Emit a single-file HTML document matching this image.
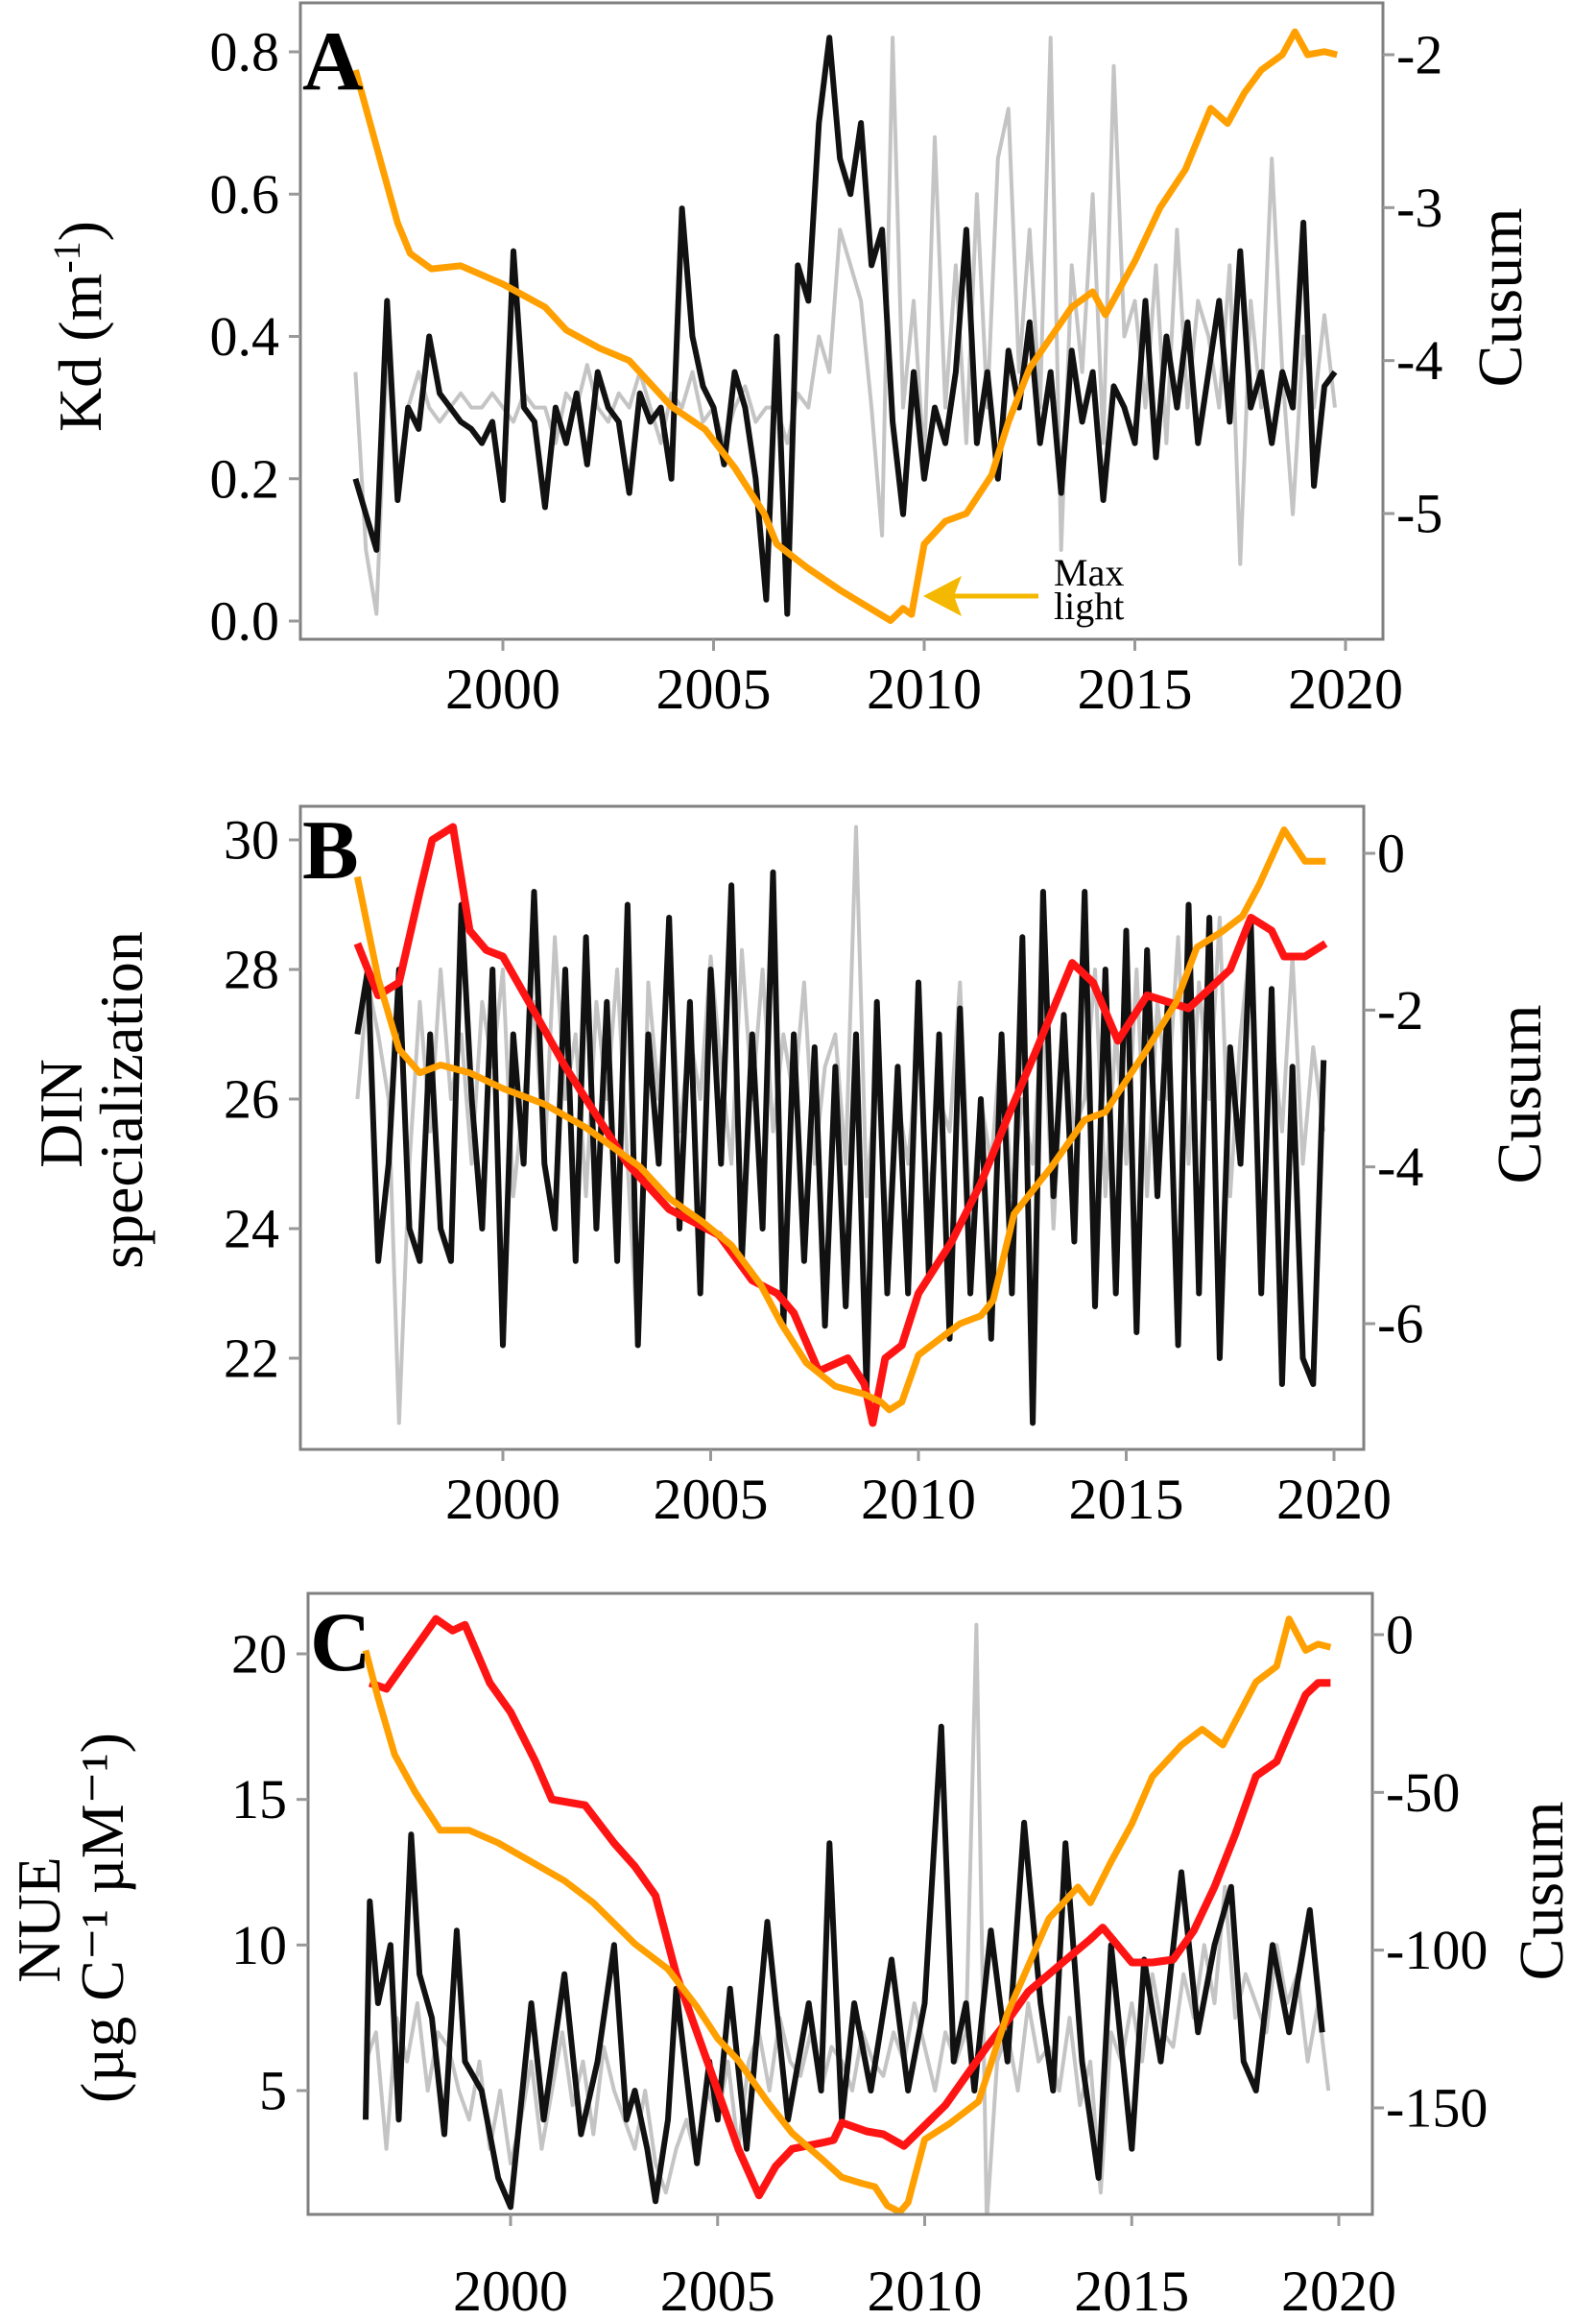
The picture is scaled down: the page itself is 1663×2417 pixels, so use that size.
<!DOCTYPE html>
<html><head><meta charset="utf-8">
<style>
html,body{margin:0;padding:0;background:#fff;}
svg{display:block;font-family:"Liberation Serif",serif;}
</style></head>
<body>
<svg id="fig" width="1663" height="2417" viewBox="0 0 1663 2417" xmlns="http://www.w3.org/2000/svg"></svg>
<script>
// ---------- Panel A data ----------
const aStart = 1996.5, aStep = 0.25;
const aBlack = [0.2,0.15, 0.1,0.45,0.17,0.3, 0.27,0.4,0.32,0.3, 0.28,0.27,0.25,0.28, 0.17,0.52,0.3,0.28, 0.16,0.3,0.25,0.32, 0.22,0.35,0.3,0.28, 0.18,0.32,0.28,0.3, 0.2,0.58,0.4,0.33, 0.3,0.22,0.35,0.3, 0.2,0.03,0.4,0.01, 0.5,0.45,0.7,0.82, 0.65,0.6,0.7,0.5, 0.55,0.28,0.15,0.35, 0.2,0.3,0.25,0.35, 0.55,0.25,0.35,0.2, 0.38,0.3,0.42,0.25, 0.35,0.18,0.38,0.28, 0.35,0.17,0.33,0.3, 0.25,0.45,0.23,0.4, 0.3,0.42,0.25,0.35, 0.45,0.28,0.52,0.3, 0.35,0.25,0.35,0.3, 0.56,0.19,0.33,0.35];
const aGray = [0.35,0.1, 0.01,0.38,0.2,0.3, 0.35,0.3,0.28,0.3, 0.32,0.3,0.3,0.32, 0.3,0.28,0.32,0.3, 0.3,0.25,0.32,0.3, 0.36,0.3,0.28,0.32, 0.3,0.35,0.3,0.25, 0.32,0.3,0.35,0.28, 0.3,0.25,0.3,0.33, 0.28,0.3,0.3,0.25, 0.32,0.3,0.4,0.35, 0.55,0.5,0.45,0.3, 0.12,0.82,0.3,0.45, 0.22,0.68,0.3,0.5, 0.25,0.6,0.3,0.65, 0.72,0.35,0.55,0.3, 0.82,0.1,0.5,0.35, 0.6,0.25,0.78,0.4, 0.45,0.3,0.5,0.25, 0.55,0.3,0.45,0.4, 0.3,0.5,0.08,0.45, 0.3,0.65,0.35,0.15, 0.4,0.3,0.43,0.3];
const aCusumT = [1996.5,1997.0,1997.5,1997.8,1998.3,1999.0,2000.0,2001.0,2001.5,2002.3,2003.0,2004.0,2004.8,2005.5,2006.2,2006.5,2007.2,2008.0,2008.6,2009.2,2009.5,2009.7,2010.0,2010.5,2011.0,2011.6,2012.0,2012.5,2013.0,2013.5,2014.0,2014.3,2015.0,2015.6,2016.2,2016.8,2017.2,2017.6,2018.0,2018.5,2018.8,2019.1,2019.5,2019.8];
const aCusum = [-2.1,-2.6,-3.1,-3.3,-3.4,-3.38,-3.5,-3.65,-3.8,-3.92,-4.0,-4.3,-4.45,-4.7,-5.0,-5.2,-5.35,-5.5,-5.6,-5.7,-5.62,-5.66,-5.2,-5.05,-5.0,-4.75,-4.4,-4.05,-3.85,-3.65,-3.55,-3.7,-3.35,-3.0,-2.75,-2.35,-2.45,-2.25,-2.1,-2.0,-1.85,-2.0,-1.98,-2.0];
const aYTicks = [0.0,0.2,0.4,0.6,0.8];
const aRTicks = [-5,-4,-3,-2];
// ---------- Panel B data ----------
const bStart = 1996.5, bStep = 0.25;
const bBlack = [27,28, 23.5,25,28,24, 23.5,27,24,23.5, 29,26,24,28, 22.2,27,25,29.2, 25,24,28,23.5, 28.5,24,27.5,23.5, 29,22.2,27,25, 28.8,24,27.5,23, 28,25,29.3,23.5, 27,24,29.5,22.5, 27,23.5,26.8,22.5, 26.5,22.8,27,21.5, 27.5,23,26.5,23, 27.8,23.3,27,22.3, 27.4,23,26,22.3, 27,23,28.5,21, 29.2,24.5,27.3,23.8, 29.2,22.8,28,23, 28.6,22.4,28.3,24.5, 27.5,22.2,29.0,23, 28.8,22,26.8,25, 28.7,23,27.7,21.6, 26.5,22,21.6,26.6];
const bGray = [26,27.8, 27,26,21,25, 27.5,25.5,28,26, 27,25,27.5,26.5, 28,24.5,26,27.5, 25,28.5,26,27, 24.5,27.5,26,28, 25,22.2,27.8,26, 28.5,25.5,27,26, 28.2,26.5,25,28.3, 26,28,25.5,27, 26,27.8,25,26.5, 27,25,30.2,24.5, 26.5,24,26,25, 27,24.5,26,25.5, 27.8,24,26,25, 27,24.5,26,25, 27.5,24,27,25.5, 26,28,24.5,27, 25,28,24.5,27.5, 26,28.5,25,27.8, 26,28.8,24.5,27, 28.5,23,27,25.5, 28.2,25,26.8,25.5];
const bRedT = [1996.5,1997.0,1997.5,1998.0,1998.3,1998.8,1999.2,1999.6,2000.0,2000.8,2001.5,2002.0,2003.0,2004.0,2005.2,2006.0,2006.6,2007.0,2007.6,2008.3,2008.7,2008.9,2009.2,2009.6,2010.0,2010.8,2011.5,2012.2,2012.8,2013.7,2014.2,2014.8,2015.5,2016.5,2017.5,2018.0,2018.5,2018.8,2019.3,2019.8];
const bRed = [28.4,27.6,27.8,29.2,30.0,30.2,28.6,28.3,28.2,27.3,26.5,26.0,25.0,24.3,23.9,23.2,23.0,22.7,21.8,22.0,21.6,21.0,22.0,22.2,23.0,23.8,24.7,25.8,26.7,28.1,27.8,26.9,27.6,27.4,28.0,28.8,28.6,28.2,28.2,28.4];
const bCusumT = [1996.5,1997.0,1997.5,1998.0,1998.5,1999.2,2000.0,2001.0,2002.0,2003.3,2004.0,2004.8,2005.5,2006.2,2006.7,2007.3,2008.0,2008.7,2009.1,2009.3,2009.6,2010.0,2010.5,2011.0,2011.5,2011.8,2012.3,2013.2,2014.0,2014.5,2015.5,2016.2,2016.7,2017.3,2017.8,2018.2,2018.8,2019.3,2019.8];
const bCusum = [-0.3,-1.6,-2.5,-2.8,-2.7,-2.8,-3.0,-3.2,-3.5,-4.0,-4.4,-4.7,-5.0,-5.5,-6.0,-6.5,-6.8,-6.9,-7.0,-7.1,-7.0,-6.4,-6.2,-6.0,-5.9,-5.7,-4.6,-4.0,-3.4,-3.3,-2.5,-1.9,-1.2,-1.0,-0.8,-0.4,0.3,-0.1,-0.1];
const bYTicks = [22,24,26,28,30];
const bRTicks = [-6,-4,-2,0];
// ---------- Panel C data ----------
const cBlackT = [1996.5,1996.6,1996.8,1997.1,1997.3,1997.6,1997.8,1998.1,1998.4,1998.7,1998.9,1999.3,1999.7,2000.0,2000.5,2000.8,2001.3,2001.7,2002.1,2002.5,2002.8,2003.0,2003.3,2003.5,2003.8,2004.0,2004.5,2004.8,2005.0,2005.3,2005.7,2006.2,2006.7,2007.2,2007.5,2007.7,2008.0,2008.3,2008.7,2009.2,2009.6,2010.0,2010.4,2010.7,2011.0,2011.2,2011.6,2012.0,2012.4,2012.8,2013.1,2013.4,2013.8,2014.2,2014.5,2015.0,2015.3,2015.7,2016.2,2016.6,2017.0,2017.4,2017.7,2018.0,2018.4,2018.8,2019.3,2019.6];
const cBlack = [4,11.5,8,10,4,13.8,9,7.5,3.5,10.5,6,5,2,1,8,4,9,3.5,6,10,4,5,3,1.2,4,8.5,2.5,6,4,8.5,3,10.8,4,8,5,13.5,4,8,5,9.5,5,8,17.5,6,8,5,10.5,6,14.2,8,5,13.5,6,2,10,3,9.5,6,12.5,7,10,12,6,5,10,7,11.2,7];
const cGrayStart = 1996.5, cGrayStep = 0.25;
const cGray = [6,7, 3,7.5,6,8, 5,7,6.5,5, 4,6,3,5, 2.5,4,6,3, 5,7,4.5,6, 3.5,6.5,5,4, 3,5,2.5,1.5, 3,4,2.5,5, 4,6,3,6, 7,5,7.5,6, 5.5,7,5,6.5, 6,5,7,6, 5.5,7,6,8, 6.5,5,7,6, 7,21,0.5,6, 7,5,8,6, 6.5,5,7.5,4.5, 6,1.5,7,6, 8,6,9,7, 6.5,9,7.5,10, 8,12,7.5,9, 8,7,10,8, 9,6,8,5];
const cRedT = [1996.6,1997.0,1997.5,1998.2,1998.6,1998.9,1999.5,2000.0,2000.6,2001.0,2001.8,2002.5,2003.0,2003.5,2004.0,2004.5,2005.0,2005.5,2006.0,2006.4,2006.8,2007.5,2007.8,2008.0,2008.6,2009.0,2009.5,2010.0,2010.5,2011.0,2011.5,2012.0,2012.5,2013.0,2013.5,2014.0,2014.3,2015.0,2015.5,2016.0,2016.5,2017.0,2017.5,2018.0,2018.5,2018.8,2019.2,2019.5,2019.8];
const cRed = [19.0,18.8,19.8,21.2,20.8,21.0,19.0,18.0,16.3,15.0,14.8,13.5,12.7,11.7,9.0,7.0,5.0,3.0,1.4,2.4,3.0,3.2,3.3,3.9,3.6,3.5,3.1,3.8,4.5,5.5,6.5,7.4,8.4,9.0,9.6,10.2,10.6,9.4,9.4,9.5,10.5,12.0,13.8,15.8,16.3,17.3,18.6,19.0,19.0];
const cCusumT = [1996.5,1996.8,1997.2,1997.7,1998.3,1999.0,1999.7,2000.5,2001.3,2002.0,2003.0,2003.8,2004.5,2005.0,2005.5,2006.2,2006.8,2007.5,2008.0,2008.5,2008.8,2009.1,2009.4,2009.6,2010.0,2010.6,2011.3,2012.0,2012.5,2013.0,2013.7,2014.0,2014.5,2015.0,2015.5,2016.2,2016.7,2017.2,2017.6,2018.0,2018.5,2018.8,2019.2,2019.5,2019.8];
const cCusum = [-5,-20,-38,-50,-62,-62,-66,-72,-78,-85,-98,-106,-118,-128,-135,-148,-158,-166,-172,-174,-175,-181,-183,-180,-160,-155,-148,-120,-105,-90,-80,-85,-72,-60,-45,-35,-30,-35,-25,-15,-10,5,-5,-3,-4];
const cYTicks = [5,10,15,20];
const cRTicks = [-150,-100,-50,0];
const xTicks = [2000,2005,2010,2015,2020];

const NS = "http://www.w3.org/2000/svg";
const svg = document.getElementById('fig');
function mk(tag, attrs, parent){ const e=document.createElementNS(NS,tag); for(const k in attrs) e.setAttribute(k,attrs[k]); (parent||svg).appendChild(e); return e; }
function lin(d0,d1,r0,r1){ return v => r0 + (v-d0)*(r1-r0)/(d1-d0); }
function seriesPts(times, vals, xs, ys){ return vals.map((v,i)=>xs(times[i]).toFixed(1)+','+ys(v).toFixed(1)).join(' '); }
function stepTimes(start, step, n){ const t=[]; for(let i=0;i<n;i++) t.push(start+i*step); return t; }

function panel(cfg){
  const g = mk('g',{});
  
  
  const xs = lin(2000,2020,cfg.x2000,cfg.x2020);
  const ys = lin(cfg.yl[0],cfg.yl[1],cfg.yp[0],cfg.yp[1]);
  const yr = lin(cfg.yr[0],cfg.yr[1],cfg.yrp[0],cfg.yrp[1]);
  const cp = mk('clipPath',{id:'clip'+cfg.id},g);
  mk('rect',{x:cfg.L,y:cfg.T,width:cfg.R-cfg.L,height:cfg.B-cfg.T},cp);
  const plot = mk('g',{'clip-path':'url(#clip'+cfg.id+')'},g);
  const gray = mk('polyline',{points:seriesPts(cfg.grayT,cfg.gray,xs,ys),fill:'none',stroke:'#c4c4c4','stroke-width':4,'stroke-linejoin':'round'},plot);
  
  
  const black = mk('polyline',{points:seriesPts(cfg.blackT,cfg.black,xs,ys),fill:'none',stroke:'#111','stroke-width':6,'stroke-linejoin':'round'},plot);
  
  
  if(cfg.red){
    const red = mk('polyline',{points:seriesPts(cfg.redT,cfg.red,xs,ys),fill:'none',stroke:'#ff1414','stroke-width':8,'stroke-linejoin':'round'},plot);
    
    
  }
  const org = mk('polyline',{points:seriesPts(cfg.cusT,cfg.cus,xs,yr),fill:'none',stroke:'#ffa000','stroke-width':7,'stroke-linejoin':'round'},plot);
  
  
  const fr = mk('rect',{x:cfg.L,y:cfg.T,width:cfg.R-cfg.L,height:cfg.B-cfg.T,fill:'none',stroke:'#808080','stroke-width':3},g);
  
  
  cfg.yTicks.forEach(v=>{
    const y=ys(v);
    mk('line',{x1:cfg.L-12,x2:cfg.L,y1:y,y2:y,stroke:'#999','stroke-width':3},g);
    const t=mk('text',{x:cfg.L-22,y:y,'text-anchor':'end','dominant-baseline':'central','font-size':58,fill:'#000'},g);
    t.textContent = cfg.fmtL(v);
    
    
  });
  cfg.rTicks.forEach(v=>{
    const y=yr(v);
    mk('line',{x1:cfg.R,x2:cfg.R+12,y1:y,y2:y,stroke:'#999','stroke-width':3},g);
    const t=mk('text',{x:cfg.R+14,y:y,'text-anchor':'start','dominant-baseline':'central','font-size':58,fill:'#000'},g);
    t.textContent = String(v);
    
    
  });
  xTicks.forEach(v=>{
    const x=xs(v);
    mk('line',{x1:x,x2:x,y1:cfg.B,y2:cfg.B+12,stroke:'#999','stroke-width':3},g);
    const t=mk('text',{x:x,y:cfg.B+cfg.xLabOff,'text-anchor':'middle','font-size':60,fill:'#000'},g);
    t.textContent = String(v);
    
    
  });
  const lab = mk('text',{x:cfg.L+2,y:cfg.labY,'font-size':88,'font-weight':'bold',fill:'#000'},g);
  lab.textContent = cfg.letter;
  
  
  const cu = mk('text',{x:0,y:0,'text-anchor':'middle','font-size':66,fill:'#000',transform:'translate('+cfg.cusX+','+cfg.cusY+') rotate(-90)'},g);
  cu.textContent='Cusum';
  
  
  return {g,xs,ys,yr};
}

const pA = panel({id:'A',name:'panel-a',letter:'A',L:313,R:1441,T:3,B:666,x2000:524,x2020:1402,
  yl:[0,0.8],yp:[647,54],yr:[-5,-2],yrp:[535,57],
  grayT:stepTimes(aStart,aStep,aGray.length),gray:aGray,blackT:stepTimes(aStart,aStep,aBlack.length),black:aBlack,
  cusT:aCusumT,cus:aCusum,yTicks:aYTicks,rTicks:aRTicks,fmtL:v=>v.toFixed(1),labY:93,cusX:1585,cusY:310,xLabOff:72});
const pB = panel({id:'B',name:'panel-b',letter:'B',L:313,R:1421,T:840,B:1510,x2000:524,x2020:1390,
  yl:[22,30],yp:[1415,875],yr:[-6,0],yrp:[1379,889],
  grayT:stepTimes(bStart,bStep,bGray.length),gray:bGray,blackT:stepTimes(bStart,bStep,bBlack.length),black:bBlack,
  redT:bRedT,red:bRed,cusT:bCusumT,cus:bCusum,yTicks:bYTicks,rTicks:bRTicks,fmtL:v=>String(v),labY:915,cusX:1605,cusY:1140,xLabOff:72});
const pC = panel({id:'C',name:'panel-c',letter:'C',L:321,R:1430,T:1660,B:2307,x2000:532,x2020:1395,
  yl:[5,20],yp:[2178,1723],yr:[-150,0],yrp:[2196,1703],
  grayT:stepTimes(cGrayStart,cGrayStep,cGray.length),gray:cGray,blackT:cBlackT,black:cBlack,
  redT:cRedT,red:cRed,cusT:cCusumT,cus:cCusum,yTicks:cYTicks,rTicks:cRTicks,fmtL:v=>String(v),labY:1740,cusX:1628,cusY:1970,xLabOff:100});

function vtext(txt,x,y,size,name){
  const t=mk('text',{x:0,y:0,'text-anchor':'middle','font-size':size,fill:'#000',transform:'translate('+x+','+y+') rotate(-90)'});
  t.textContent=txt;
  
  
  return t;
}
const kd = mk('text',{x:0,y:0,'text-anchor':'middle','font-size':64,fill:'#000',transform:'translate(105,340) rotate(-90)'});


kd.appendChild(document.createTextNode('Kd (m'));
const sup = mk('tspan',{'font-size':40,dy:-22},kd); sup.textContent='-1';
const sup2 = mk('tspan',{dy:22},kd); sup2.textContent=')';
vtext('DIN',85,1160,64,'y-axis-title-b-line1');
vtext('specialization',148,1146,64,'y-axis-title-b-line2');
vtext('NUE',62,2000,64,'y-axis-title-c-line1');
vtext('(\u00b5g C\u207b\u00b9 \u00b5M\u207b\u00b9)',128,1998,64,'y-axis-title-c-line2');

const arr = mk('g',{});


mk('line',{x1:1082,y1:621,x2:990,y2:621,stroke:'#f5b800','stroke-width':5},arr);
mk('polygon',{points:'962,621 1002,600 994,621 1002,642',fill:'#f5b800'},arr);
const mx = mk('text',{x:1098,y:610,'font-size':40,fill:'#000'});
mx.textContent='Max';


const lt = mk('text',{x:1098,y:645,'font-size':40,fill:'#000'});
lt.textContent='light';


</script>
</body></html>
